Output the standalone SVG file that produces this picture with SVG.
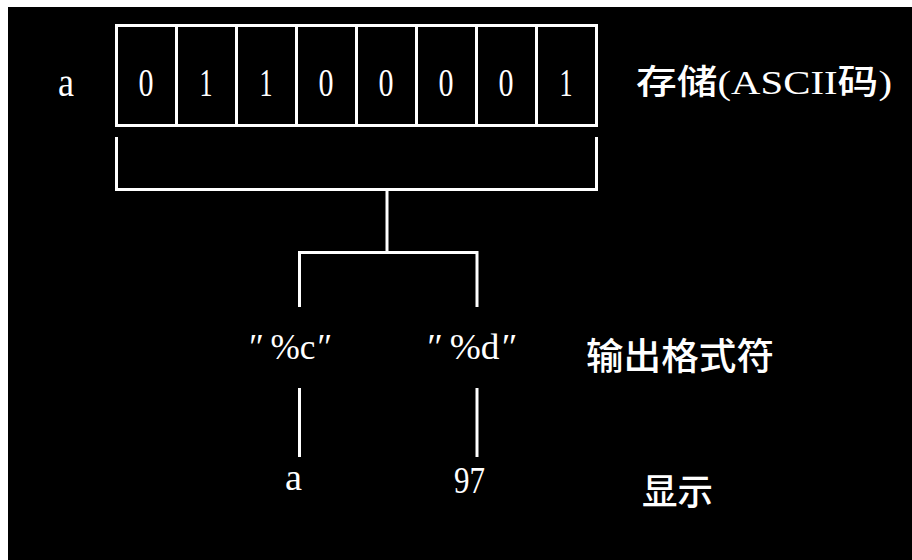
<svg xmlns="http://www.w3.org/2000/svg" width="912" height="560" viewBox="0 0 912 560">
<style>
.ln{stroke:#fff;stroke-width:3;fill:none}
.t{fill:#fff;font-family:"Liberation Serif","Noto Sans CJK SC",serif}
.cjk{fill:#fff;font-family:"Noto Sans CJK SC","Liberation Serif",sans-serif;font-weight:500}
.d{font-size:40px;text-anchor:middle}
</style>
<rect x="0" y="0" width="912" height="560" fill="#fff"/>
<rect x="8" y="7" width="904" height="553" fill="#000"/>
<g id="var-a"><text class="t d" x="66" y="96" textLength="16" lengthAdjust="spacingAndGlyphs">a</text></g>
<g id="storage">
<rect class="ln" x="116.5" y="25.5" width="480" height="100"/>
<path class="ln" d="M176.5 25.5V125.5M236.5 25.5V125.5M296.5 25.5V125.5M356.5 25.5V125.5M416.5 25.5V125.5M476.5 25.5V125.5M536.5 25.5V125.5"/>
<text class="t d" x="146" y="96" textLength="15" lengthAdjust="spacingAndGlyphs">0</text>
<text class="t d" x="206" y="96" textLength="13" lengthAdjust="spacingAndGlyphs">1</text>
<text class="t d" x="266" y="96" textLength="13" lengthAdjust="spacingAndGlyphs">1</text>
<text class="t d" x="326" y="96" textLength="15" lengthAdjust="spacingAndGlyphs">0</text>
<text class="t d" x="386" y="96" textLength="15" lengthAdjust="spacingAndGlyphs">0</text>
<text class="t d" x="446" y="96" textLength="15" lengthAdjust="spacingAndGlyphs">0</text>
<text class="t d" x="506" y="96" textLength="15" lengthAdjust="spacingAndGlyphs">0</text>
<text class="t d" x="566" y="96" textLength="13" lengthAdjust="spacingAndGlyphs">1</text>
</g>
<g id="label-storage"><text class="cjk" x="636" y="94" font-size="34" textLength="256" lengthAdjust="spacingAndGlyphs">存储<tspan class="t">(ASCII</tspan>码<tspan class="t">)</tspan></text></g>
<g id="fmt-c"><text class="t" x="247" y="359" font-size="36" textLength="83" lengthAdjust="spacingAndGlyphs"><tspan font-style="italic">″</tspan> %c<tspan font-style="italic">″</tspan></text></g>
<g id="fmt-d"><text class="t" x="425" y="359" font-size="36" textLength="90" lengthAdjust="spacingAndGlyphs"><tspan font-style="italic">″</tspan> %d<tspan font-style="italic">″</tspan></text></g>
<g id="label-fmt"><text class="cjk" x="586" y="370" font-size="37" textLength="188" lengthAdjust="spacingAndGlyphs">输出格式符</text></g>
<g id="out-a"><text class="t" x="285" y="490" font-size="38" textLength="17" lengthAdjust="spacingAndGlyphs">a</text></g>
<g id="out-97"><text class="t" x="454" y="493" font-size="38" textLength="31" lengthAdjust="spacingAndGlyphs">97</text></g>
<g id="label-show"><text class="cjk" x="642" y="505" font-size="36" textLength="71" lengthAdjust="spacingAndGlyphs">显示</text></g>
<g id="connectors">
<path class="ln" d="M116.5 137V189.5H596.5V137"/>
<path class="ln" d="M387 189.5V252.5"/>
<path class="ln" d="M299.5 307V252.5H477V307"/>
<path class="ln" d="M299.5 388V457"/>
<path class="ln" d="M477 388V457"/>
</g>
</svg>
